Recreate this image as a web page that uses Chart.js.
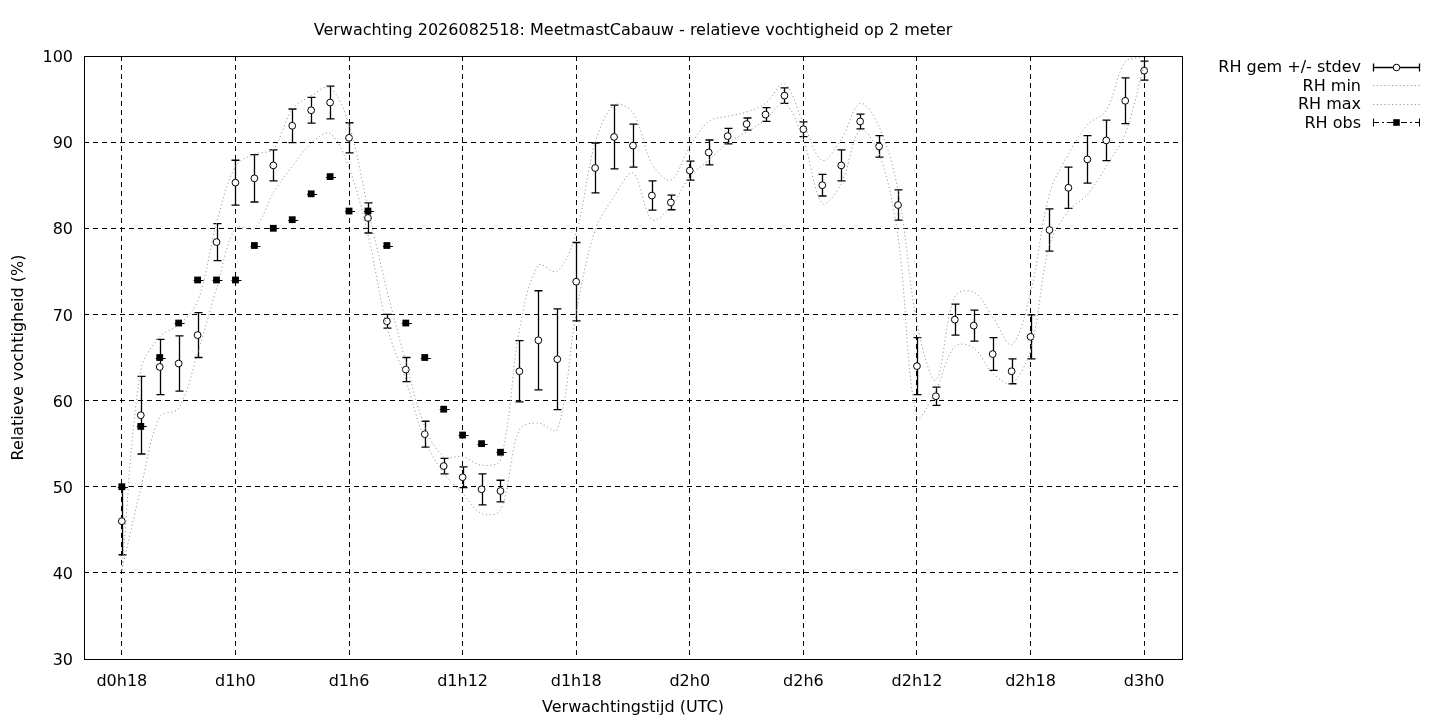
<!DOCTYPE html>
<html><head><meta charset="utf-8">
<script src="https://cdn.jsdelivr.net/npm/chart.js@4.4.1/dist/chart.umd.min.js"></script>
<style>html,body{margin:0;padding:0;background:#fff}#wrap{width:1440px;height:720px;position:relative}canvas{display:block}</style>
</head><body><div id="wrap"><canvas id="c" width="1440" height="720" style="width:1440px;height:720px"></canvas></div>
<script>
const chartTitle = 'Verwachting 2026082518: MeetmastCabauw - relatieve vochtigheid op 2 meter';
const xTitle = 'Verwachtingstijd (UTC)';
const yTitle = 'Relatieve vochtigheid (%)';
const legendLabels = ['RH gem +/- stdev', 'RH min', 'RH max', 'RH obs'];

const hours = [18,19,20,21,22,23,24,25,26,27,28,29,30,31,32,33,34,35,36,37,38,39,40,41,42,43,44,45,
  46,47,48,49,50,51,52,53,54,55,56,57,58,59,60,61,62,63,64,65,66,67,68,69,70,71,72];
const xTickValues = [18,24,30,36,42,48,54,60,66,72];
const xTickLabels = ['d0h18','d1h0','d1h6','d1h12','d1h18','d2h0','d2h6','d2h12','d2h18','d3h0'];

const rhMean = [46.0,58.3,63.9,64.3,67.6,78.4,85.3,85.8,87.3,91.9,
  93.7,94.6,90.5,81.2,69.2,63.6,56.1,52.4,51.1,49.7,
  49.5,63.4,67.0,64.8,73.8,87.0,90.6,89.6,83.8,83.0,
  86.7,88.8,90.7,92.1,93.2,95.4,91.5,85.0,87.3,92.4,
  89.5,82.7,64.0,60.5,69.4,68.7,65.4,63.4,67.4,79.8,
  84.7,88.0,90.2,94.8,98.3];
const rhStdev = [3.9,4.5,3.2,3.2,2.6,2.15,2.6,2.75,1.8,1.95,
  1.5,1.9,1.75,1.75,0.8,1.4,1.5,0.9,1.2,1.8,
  1.25,3.55,5.75,5.85,4.55,2.9,3.7,2.5,1.7,0.85,
  1.1,1.45,0.9,0.7,0.8,0.9,0.85,1.25,1.8,0.85,
  1.25,1.75,3.3,1.05,1.8,1.8,1.9,1.45,2.55,2.45,
  2.4,2.75,2.35,2.65,1.1];
const rhMin = [40.3,49.8,58.1,59.1,65.5,73.0,80.0,80.0,84.1,87.2,
  89.9,91.0,87.0,79.3,68.6,62.4,55.4,51.6,49.2,46.9,
  47.3,56.6,57.4,56.6,70.2,79.8,83.7,86.4,81.0,82.5,
  86.0,87.9,89.9,91.2,92.6,94.5,90.3,82.9,85.2,91.4,
  88.7,79.0,58.1,61.2,66.3,66.1,63.2,62.0,65.9,78.0,
  82.0,83.9,87.2,91.0,99.0];
const rhMax = [40.3,63.5,67.4,68.8,71.5,80.6,87.2,88.6,89.2,93.8,
  95.4,96.3,92.0,82.3,72.8,64.5,57.0,53.5,53.5,52.5,
  53.1,68.2,75.7,75.0,79.5,89.9,94.3,93.4,87.5,85.6,
  89.5,92.4,93.0,93.5,94.5,96.8,92.2,87.9,90.3,94.5,
  91.8,84.4,69.0,62.4,72.1,72.6,69.7,66.5,72.5,84.0,
  88.6,92.0,93.7,99.3,99.9];
const rhObs = [50,57,65,69,74,74,74,78,80,81,84,86,82,82,78,69,65,59,56,55,54];

const FONT = '"DejaVu Sans", Verdana, sans-serif';
const FS = 16;
const DOT_COLOR = '#9a9a9a';
const DOT_DASH = [1.2, 2.6];

const pts = (arr) => arr.map((v, i) => ({x: hours[i], y: v}));

const deco = {
  id: 'deco',
  beforeDatasetsDraw(chart) {
    const ctx = chart.ctx, xs = chart.scales.x, ys = chart.scales.y;
    ctx.save();
    ctx.strokeStyle = '#000';
    ctx.lineWidth = 1.3;
    for (let i = 0; i < rhMean.length; i++) {
      const x = Math.round(xs.getPixelForValue(hours[i])) + 0.5;
      const yt = ys.getPixelForValue(rhMean[i] + rhStdev[i]);
      const yb = ys.getPixelForValue(rhMean[i] - rhStdev[i]);
      ctx.beginPath();
      ctx.moveTo(x, yt); ctx.lineTo(x, yb);
      ctx.moveTo(x - 4, yt); ctx.lineTo(x + 4, yt);
      ctx.moveTo(x - 4, yb); ctx.lineTo(x + 4, yb);
      ctx.stroke();
    }
    ctx.lineWidth = 1;
    for (let i = 0; i < rhObs.length; i++) {
      const x = xs.getPixelForValue(hours[i]);
      const y = Math.round(ys.getPixelForValue(rhObs[i])) + 0.5;
      ctx.beginPath();
      ctx.moveTo(x - 4, y); ctx.lineTo(x + 6, y);
      ctx.stroke();
    }
    ctx.restore();
  },
  afterDraw(chart) {
    const ctx = chart.ctx, a = chart.chartArea;
    ctx.save();
    ctx.strokeStyle = '#000';
    ctx.lineWidth = 1;
    ctx.strokeRect(Math.round(a.left) + 0.5, Math.round(a.top) + 0.5,
      Math.round(a.right - a.left), Math.round(a.bottom - a.top));
    ctx.fillStyle = '#000';
    ctx.font = FS + 'px ' + FONT;
    ctx.textBaseline = 'middle';
    ctx.textAlign = 'center';
    ctx.fillText(chartTitle, (a.left + a.right) / 2, 30.5);
    ctx.fillText(xTitle, (a.left + a.right) / 2, 707.5);
    ctx.save();
    ctx.translate(19, (a.top + a.bottom) / 2);
    ctx.rotate(-Math.PI / 2);
    ctx.fillText(yTitle, 0, 0);
    ctx.restore();

    // legend
    const tx = 1361, x0 = 1373, x1 = 1420, xm = (x0 + x1) / 2;
    const ly = [66.5, 85, 103.5, 122];
    ctx.textAlign = 'right';
    legendLabels.forEach((t, i) => ctx.fillText(t, tx, ly[i] + 1.5));
    // gem
    let y = Math.round(ly[0]) + 0.5;
    ctx.lineWidth = 1.3;
    ctx.beginPath();
    ctx.moveTo(x0, y); ctx.lineTo(x1, y);
    ctx.moveTo(x0 + 0.5, y - 4); ctx.lineTo(x0 + 0.5, y + 4);
    ctx.moveTo(x1 - 0.5, y - 4); ctx.lineTo(x1 - 0.5, y + 4);
    ctx.stroke();
    ctx.beginPath(); ctx.arc(xm, y, 3.3, 0, Math.PI * 2);
    ctx.fillStyle = '#fff'; ctx.fill(); ctx.lineWidth = 1; ctx.stroke();
    // min / max
    ctx.strokeStyle = DOT_COLOR;
    ctx.setLineDash(DOT_DASH);
    [1, 2].forEach(k => {
      const yy = Math.round(ly[k]) + 0.5;
      ctx.beginPath(); ctx.moveTo(x0, yy); ctx.lineTo(x1, yy); ctx.stroke();
    });
    // obs
    y = Math.round(ly[3]) + 0.5;
    ctx.strokeStyle = '#000';
    ctx.setLineDash([6, 3, 2, 3]);
    ctx.beginPath(); ctx.moveTo(x0, y); ctx.lineTo(x1, y); ctx.stroke();
    ctx.setLineDash([]);
    ctx.beginPath();
    ctx.moveTo(x0 + 0.5, y - 4); ctx.lineTo(x0 + 0.5, y + 4);
    ctx.moveTo(x1 - 0.5, y - 4); ctx.lineTo(x1 - 0.5, y + 4);
    ctx.stroke();
    ctx.fillStyle = '#000';
    ctx.fillRect(xm - 3.3, y - 3.3, 6.6, 6.6);
    ctx.restore();
  }
};

new Chart(document.getElementById('c'), {
  type: 'line',
  data: {
    datasets: [
      {label: legendLabels[0], data: pts(rhMean), showLine: false, pointStyle: 'circle',
       pointRadius: 3.4, pointBackgroundColor: '#fff', pointBorderColor: '#000', pointBorderWidth: 1, order: 3},
      {label: legendLabels[1], data: pts(rhMin), borderColor: DOT_COLOR, borderWidth: 1, borderDash: DOT_DASH,
       pointRadius: 0, tension: 0.35, fill: false, order: 2},
      {label: legendLabels[2], data: pts(rhMax), borderColor: DOT_COLOR, borderWidth: 1, borderDash: DOT_DASH,
       pointRadius: 0, tension: 0.35, fill: false, order: 2},
      {label: legendLabels[3], data: rhObs.map((v, i) => ({x: hours[i], y: v})), showLine: false,
       pointStyle: 'rect', pointRadius: 4.8, pointBackgroundColor: '#000', pointBorderColor: '#000',
       pointBorderWidth: 0, order: 1}
    ]
  },
  options: {
    responsive: false, animation: false, devicePixelRatio: 1,
    layout: {padding: {left: 0, top: 56, right: 258, bottom: 0}},
    plugins: {legend: {display: false}, tooltip: {enabled: false}, title: {display: false}},
    elements: {point: {hoverRadius: 0}},
    scales: {
      x: {
        type: 'linear', min: 16, max: 74,
        afterBuildTicks: (s) => { s.ticks = xTickValues.map(v => ({value: v})); },
        afterFit: (s) => { s.height = 61; },
        ticks: {callback: (v, i) => xTickLabels[i], color: '#000', font: {family: FONT, size: FS},
                padding: 13, maxRotation: 0, autoSkip: false},
        grid: {color: '#000', lineWidth: 1, drawTicks: false},
        border: {display: false, dash: [5, 4]}
      },
      y: {
        min: 30, max: 100,
        afterFit: (s) => { s.width = 84; },
        ticks: {stepSize: 10, color: '#000', font: {family: FONT, size: FS}, padding: 11, labelOffset: 2},
        grid: {color: '#000', lineWidth: 1, drawTicks: false},
        border: {display: false, dash: [5, 4]}
      }
    }
  },
  plugins: [deco]
});
</script>
</body></html>
